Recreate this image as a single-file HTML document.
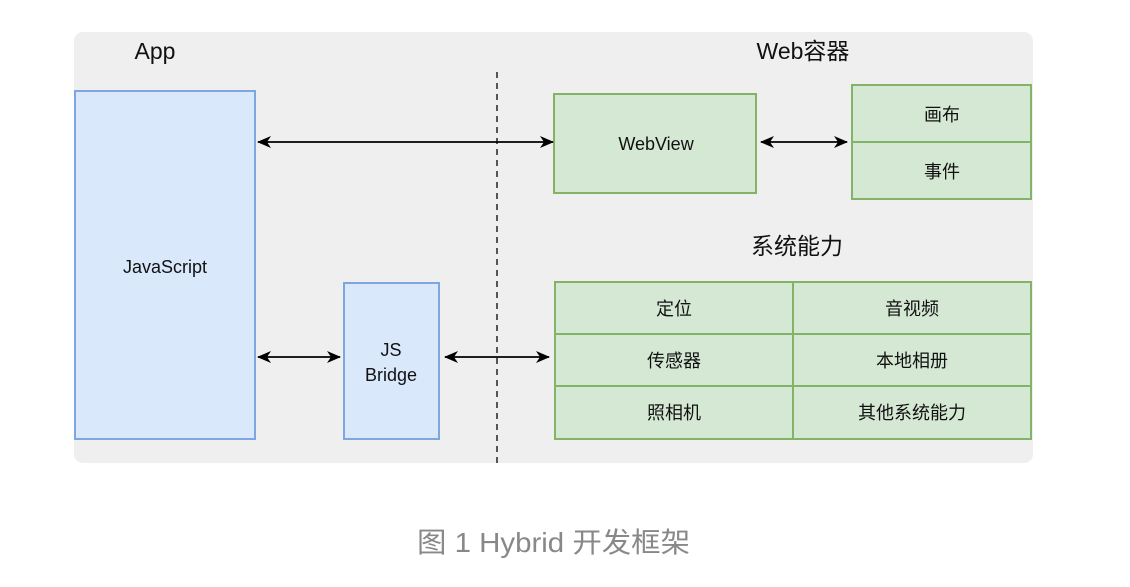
<!DOCTYPE html>
<html><head><meta charset="utf-8"><style>
body{margin:0;width:1130px;height:582px;background:#fff;overflow:hidden}
</style></head><body>
<svg width="1130" height="582" xmlns="http://www.w3.org/2000/svg" font-family="'Liberation Sans','Noto Sans CJK SC',sans-serif">
<defs>
<marker id="a" markerWidth="14" markerHeight="12" refX="13" refY="6" orient="auto-start-reverse" markerUnits="userSpaceOnUse"><path d="M0,0 L14,6 L0,12 L4,6 Z" fill="#000"/></marker>
</defs>
<rect x="74" y="32" width="959" height="431" rx="9" fill="#efefef"/>
<text x="155" y="59" font-size="23" text-anchor="middle" fill="#111">App</text>
<text x="803" y="59" font-size="23" text-anchor="middle" fill="#111">Web容器</text>
<text x="797" y="254" font-size="23" text-anchor="middle" fill="#111">系统能力</text>
<g stroke-width="2">
<rect x="75" y="91" width="180" height="348" fill="#dae8fc" stroke="#7ea6e0"/>
<rect x="344" y="283" width="95" height="156" fill="#dae8fc" stroke="#7ea6e0"/>
<rect x="554" y="94" width="202" height="99" fill="#d5e8d4" stroke="#82b366"/>
<rect x="852" y="85" width="179" height="114" fill="#d5e8d4" stroke="#82b366"/>
<line x1="852" y1="142" x2="1031" y2="142" stroke="#82b366"/>
<rect x="555" y="282" width="476" height="157" fill="#d5e8d4" stroke="#82b366"/>
<line x1="555" y1="334" x2="1031" y2="334" stroke="#82b366"/>
<line x1="555" y1="386" x2="1031" y2="386" stroke="#82b366"/>
<line x1="793" y1="282" x2="793" y2="439" stroke="#82b366"/>
</g>
<line x1="497" y1="72" x2="497" y2="463" stroke="#222" stroke-width="1.5" stroke-dasharray="6,5"/>
<g stroke="#000" stroke-width="1.8" fill="none">
<line x1="258" y1="142" x2="553" y2="142" marker-start="url(#a)" marker-end="url(#a)"/>
<line x1="258" y1="357" x2="340" y2="357" marker-start="url(#a)" marker-end="url(#a)"/>
<line x1="445" y1="357" x2="549" y2="357" marker-start="url(#a)" marker-end="url(#a)"/>
<line x1="761" y1="142" x2="847" y2="142" marker-start="url(#a)" marker-end="url(#a)"/>
</g>
<g font-size="18" fill="#111" text-anchor="middle">
<text x="165" y="273">JavaScript</text>
<text x="391" y="356">JS</text>
<text x="391" y="381">Bridge</text>
<text x="656" y="150">WebView</text>
<text x="942" y="121">画布</text>
<text x="942" y="178">事件</text>
<text x="674" y="315">定位</text>
<text x="912" y="315">音视频</text>
<text x="674" y="367">传感器</text>
<text x="912" y="367">本地相册</text>
<text x="674" y="419">照相机</text>
<text x="912" y="419">其他系统能力</text>
</g>
<text x="417" y="552" font-size="28" fill="#888" textLength="273" lengthAdjust="spacingAndGlyphs">图 1 Hybrid 开发框架</text>
</svg>
</body></html>
